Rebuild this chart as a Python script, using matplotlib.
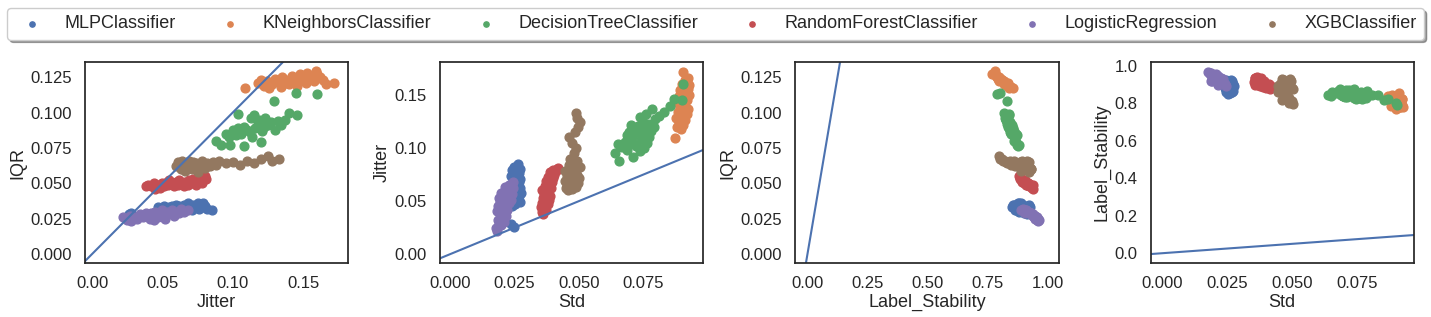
import numpy as np
import matplotlib
matplotlib.use("Agg")
import matplotlib.pyplot as plt
import seaborn as sns

sns.set_theme(style="white", palette="deep")
plt.rcParams['font.family'] = ['Liberation Sans', 'DejaVu Sans']

classifiers = ['MLPClassifier', 'KNeighborsClassifier', 'DecisionTreeClassifier',
               'RandomForestClassifier', 'LogisticRegression', 'XGBClassifier']

# MLPClassifier
mlp_jitter = [0.085, 0.082, 0.080, 0.079, 0.078, 0.077, 0.076, 0.075, 0.074, 0.073, 0.072,
              0.071, 0.070, 0.069, 0.068, 0.066, 0.065, 0.064, 0.062, 0.061, 0.060, 0.058,
              0.057, 0.056, 0.055, 0.053, 0.051, 0.049, 0.047, 0.045, 0.028, 0.026]
mlp_iqr = [0.031, 0.032, 0.034, 0.036, 0.033, 0.035, 0.032, 0.036, 0.034, 0.033, 0.035,
           0.031, 0.034, 0.033, 0.036, 0.032, 0.035, 0.031, 0.034, 0.033, 0.035, 0.032,
           0.034, 0.031, 0.033, 0.032, 0.034, 0.031, 0.033, 0.030, 0.029, 0.028]
mlp_std = [0.0262, 0.0248, 0.0271, 0.0239, 0.0256, 0.0244, 0.0268, 0.0251, 0.0236, 0.0263,
           0.0247, 0.0272, 0.0255, 0.0242, 0.0266, 0.0250, 0.0259, 0.0238, 0.0270, 0.0253,
           0.0245, 0.0274, 0.0261, 0.0249, 0.0267, 0.0257, 0.0243, 0.0269, 0.0252, 0.0240,
           0.0234, 0.0248]
mlp_stab = [0.872, 0.884, 0.903, 0.891, 0.912, 0.862, 0.921, 0.879, 0.897, 0.928, 0.888,
            0.868, 0.915, 0.899, 0.876, 0.918, 0.858, 0.906, 0.886, 0.909, 0.924, 0.895,
            0.917, 0.881, 0.911, 0.893, 0.871, 0.864, 0.852, 0.883, 0.902, 0.913]

# KNeighborsClassifier
knn_jitter = [0.109, 0.118, 0.120, 0.122, 0.124, 0.126, 0.128, 0.130, 0.132, 0.134, 0.135,
              0.137, 0.138, 0.140, 0.142, 0.143, 0.145, 0.146, 0.148, 0.149, 0.150, 0.152,
              0.153, 0.155, 0.156, 0.158, 0.159, 0.160, 0.162, 0.164, 0.166, 0.172]
knn_iqr = [0.117, 0.121, 0.123, 0.119, 0.122, 0.117, 0.120, 0.124, 0.122, 0.118, 0.125,
           0.121, 0.123, 0.120, 0.126, 0.122, 0.124, 0.119, 0.127, 0.123, 0.125, 0.121,
           0.128, 0.124, 0.126, 0.122, 0.129, 0.127, 0.125, 0.123, 0.120, 0.121]
knn_std = [0.0872, 0.0895, 0.0881, 0.0902, 0.0889, 0.0911, 0.0878, 0.0896, 0.0918, 0.0886,
           0.0905, 0.0924, 0.0893, 0.0912, 0.0883, 0.0907, 0.0921, 0.0898, 0.0915, 0.0888,
           0.0926, 0.0903, 0.0917, 0.0894, 0.0922, 0.0909, 0.0929, 0.0900, 0.0919, 0.0912,
           0.0925, 0.0904]
knn_stab = [0.838, 0.822, 0.808, 0.831, 0.799, 0.856, 0.817, 0.792, 0.812, 0.846, 0.788,
            0.824, 0.803, 0.834, 0.785, 0.815, 0.797, 0.841, 0.781, 0.809, 0.794, 0.828,
            0.779, 0.805, 0.790, 0.819, 0.783, 0.768, 0.796, 0.801, 0.826, 0.836]

# DecisionTreeClassifier
dt_jitter = [0.088, 0.092, 0.095, 0.097, 0.098, 0.100, 0.101, 0.102, 0.104, 0.105, 0.106,
             0.108, 0.108, 0.110, 0.112, 0.113, 0.114, 0.115, 0.116, 0.118, 0.119, 0.120,
             0.121, 0.122, 0.123, 0.125, 0.127, 0.129, 0.130, 0.132, 0.134, 0.137, 0.140,
             0.145, 0.146, 0.160, 0.104]
dt_iqr = [0.080, 0.077, 0.085, 0.083, 0.077, 0.088, 0.086, 0.084, 0.089, 0.087, 0.085,
          0.076, 0.090, 0.088, 0.086, 0.096, 0.083, 0.098, 0.089, 0.092, 0.095, 0.079,
          0.087, 0.090, 0.096, 0.091, 0.093, 0.108, 0.088, 0.094, 0.091, 0.095, 0.100,
          0.114, 0.098, 0.113, 0.099]
dt_std = [0.0655, 0.0710, 0.0640, 0.0735, 0.0685, 0.0752, 0.0668, 0.0720, 0.0698, 0.0765,
          0.0678, 0.0740, 0.0705, 0.0772, 0.0688, 0.0758, 0.0725, 0.0695, 0.0780, 0.0712,
          0.0745, 0.0790, 0.0730, 0.0702, 0.0768, 0.0748, 0.0795, 0.0738, 0.0810, 0.0762,
          0.0830, 0.0785, 0.0855, 0.0900, 0.0870, 0.0905, 0.0650]
dt_stab = [0.862, 0.874, 0.848, 0.866, 0.879, 0.842, 0.855, 0.871, 0.838, 0.859, 0.868,
           0.877, 0.835, 0.852, 0.845, 0.828, 0.864, 0.841, 0.857, 0.833, 0.826, 0.869,
           0.850, 0.839, 0.822, 0.853, 0.844, 0.831, 0.847, 0.836, 0.843, 0.829, 0.818,
           0.802, 0.825, 0.790, 0.838]

# RandomForestClassifier
rf_jitter = [0.038, 0.040, 0.042, 0.044, 0.045, 0.047, 0.048, 0.050, 0.051, 0.053, 0.054,
             0.055, 0.057, 0.058, 0.060, 0.061, 0.062, 0.064, 0.065, 0.066, 0.068, 0.069,
             0.070, 0.072, 0.073, 0.074, 0.075, 0.077, 0.078, 0.079, 0.080, 0.081]
rf_iqr = [0.048, 0.049, 0.048, 0.050, 0.046, 0.049, 0.047, 0.050, 0.048, 0.051, 0.049,
          0.052, 0.050, 0.048, 0.051, 0.049, 0.052, 0.050, 0.048, 0.051, 0.049, 0.052,
          0.050, 0.053, 0.051, 0.049, 0.052, 0.053, 0.050, 0.054, 0.055, 0.053]
rf_std = [0.0362, 0.0358, 0.0371, 0.0352, 0.0366, 0.0378, 0.0355, 0.0369, 0.0383, 0.0360,
          0.0374, 0.0388, 0.0364, 0.0380, 0.0357, 0.0372, 0.0391, 0.0367, 0.0384, 0.0376,
          0.0395, 0.0370, 0.0386, 0.0399, 0.0379, 0.0393, 0.0404, 0.0389, 0.0410, 0.0398,
          0.0415, 0.0420]
rf_stab = [0.928, 0.938, 0.925, 0.917, 0.941, 0.929, 0.936, 0.913, 0.922, 0.909, 0.931,
           0.904, 0.918, 0.934, 0.901, 0.915, 0.897, 0.908, 0.926, 0.894, 0.912, 0.899,
           0.906, 0.889, 0.903, 0.919, 0.893, 0.886, 0.902, 0.884, 0.879, 0.891]

# LogisticRegression
lr_jitter = [0.022, 0.025, 0.027, 0.028, 0.030, 0.032, 0.034, 0.036, 0.038, 0.040, 0.041,
             0.042, 0.043, 0.044, 0.045, 0.046, 0.047, 0.048, 0.049, 0.050, 0.051, 0.052,
             0.053, 0.054, 0.056, 0.057, 0.058, 0.060, 0.062, 0.063, 0.065, 0.068]
lr_iqr = [0.026, 0.024, 0.027, 0.023, 0.026, 0.025, 0.028, 0.026, 0.029, 0.027, 0.025,
          0.029, 0.027, 0.024, 0.030, 0.028, 0.026, 0.029, 0.027, 0.031, 0.028, 0.025,
          0.030, 0.028, 0.029, 0.031, 0.027, 0.030, 0.029, 0.032, 0.030, 0.031]
lr_std = [0.0182, 0.0176, 0.0198, 0.0188, 0.0208, 0.0185, 0.0201, 0.0215, 0.0192, 0.0210,
          0.0183, 0.0222, 0.0196, 0.0205, 0.0187, 0.0218, 0.0200, 0.0228, 0.0193, 0.0212,
          0.0235, 0.0203, 0.0190, 0.0225, 0.0209, 0.0238, 0.0197, 0.0220, 0.0242, 0.0214,
          0.0230, 0.0245]
lr_stab = [0.958, 0.966, 0.947, 0.961, 0.952, 0.957, 0.938, 0.949, 0.931, 0.944, 0.962,
           0.927, 0.941, 0.955, 0.921, 0.936, 0.951, 0.929, 0.943, 0.912, 0.933, 0.948,
           0.918, 0.935, 0.924, 0.909, 0.939, 0.916, 0.905, 0.898, 0.902, 0.891]

# XGBClassifier
xgb_jitter = [0.060, 0.061, 0.062, 0.063, 0.064, 0.065, 0.066, 0.067, 0.068, 0.069, 0.070,
              0.071, 0.072, 0.073, 0.074, 0.075, 0.077, 0.078, 0.080, 0.082, 0.084, 0.086,
              0.088, 0.090, 0.095, 0.100, 0.105, 0.110, 0.115, 0.120, 0.125, 0.128, 0.133]
xgb_iqr = [0.062, 0.065, 0.063, 0.060, 0.066, 0.062, 0.059, 0.064, 0.061, 0.066, 0.063,
           0.060, 0.065, 0.062, 0.064, 0.058, 0.063, 0.066, 0.061, 0.064, 0.062, 0.065,
           0.063, 0.066, 0.064, 0.065, 0.063, 0.066, 0.064, 0.067, 0.069, 0.066, 0.067]
xgb_std = [0.0458, 0.0472, 0.0448, 0.0490, 0.0465, 0.0482, 0.0452, 0.0496, 0.0470, 0.0444,
           0.0486, 0.0461, 0.0500, 0.0475, 0.0455, 0.0492, 0.0468, 0.0446, 0.0484, 0.0502,
           0.0460, 0.0478, 0.0494, 0.0466, 0.0480, 0.0488, 0.0472, 0.0460, 0.0485, 0.0498,
           0.0505, 0.0492, 0.0488]
xgb_stab = [0.908, 0.921, 0.897, 0.929, 0.914, 0.902, 0.889, 0.918, 0.925, 0.893, 0.910,
            0.931, 0.884, 0.906, 0.898, 0.924, 0.872, 0.861, 0.901, 0.878, 0.866, 0.852,
            0.883, 0.845, 0.838, 0.827, 0.849, 0.816, 0.833, 0.812, 0.798, 0.821, 0.804]

data = {
    'MLPClassifier': (mlp_jitter, mlp_iqr, mlp_std, mlp_stab),
    'KNeighborsClassifier': (knn_jitter, knn_iqr, knn_std, knn_stab),
    'DecisionTreeClassifier': (dt_jitter, dt_iqr, dt_std, dt_stab),
    'RandomForestClassifier': (rf_jitter, rf_iqr, rf_std, rf_stab),
    'LogisticRegression': (lr_jitter, lr_iqr, lr_std, lr_stab),
    'XGBClassifier': (xgb_jitter, xgb_iqr, xgb_std, xgb_stab),
}

# (x label, x metric, y label, y metric, xlim, ylim); metric: 0 jitter, 1 iqr, 2 std, 3 stab
panels = [
    ('Jitter', 0, 'IQR', 1, (-0.005, 0.182), (-0.0064, 0.1356)),
    ('Std', 2, 'Jitter', 0, (-0.0039, 0.0983), (-0.0085, 0.181)),
    ('Label_Stability', 3, 'IQR', 1, (-0.05, 1.046), (-0.0064, 0.1356)),
    ('Std', 2, 'Label_Stability', 3, (-0.0046, 0.097), (-0.053, 1.021)),
]

colors = sns.color_palette('deep')

fig, axes = plt.subplots(1, 4, figsize=(14.31, 3.17), dpi=100)
fig.subplots_adjust(left=0.0594, right=0.988, bottom=0.170, top=0.804, wspace=0.35)

for ax, (xl, xi, yl, yi, xlim, ylim) in zip(axes, panels):
    for i, name in enumerate(classifiers):
        vals = data[name]
        ax.scatter(vals[xi], vals[yi], s=40, color=colors[i], label=name)
    ax.axline((0, 0), slope=1, color=colors[0], linewidth=1.5)
    ax.set_xlim(*xlim)
    ax.set_ylim(*ylim)
    ax.set_xlabel(xl, fontsize=13, labelpad=2)
    ax.set_ylabel(yl, fontsize=13, labelpad=3)
    ax.tick_params(labelsize=12)
    for sp in ax.spines.values():
        sp.set_edgecolor('#262626')

axes[1].set_xticks([0.0, 0.025, 0.05, 0.075])
axes[3].set_xticks([0.0, 0.025, 0.05, 0.075])

handles, labels = axes[0].get_legend_handles_labels()
fig.legend(handles, labels, loc='lower left', bbox_to_anchor=(0.005, 0.875, 0.99, 0.1),
           mode='expand', ncol=6, fontsize=13, shadow=True, markerscale=0.6,
           frameon=True, borderaxespad=0)

plt.savefig('out.png', dpi=100)
